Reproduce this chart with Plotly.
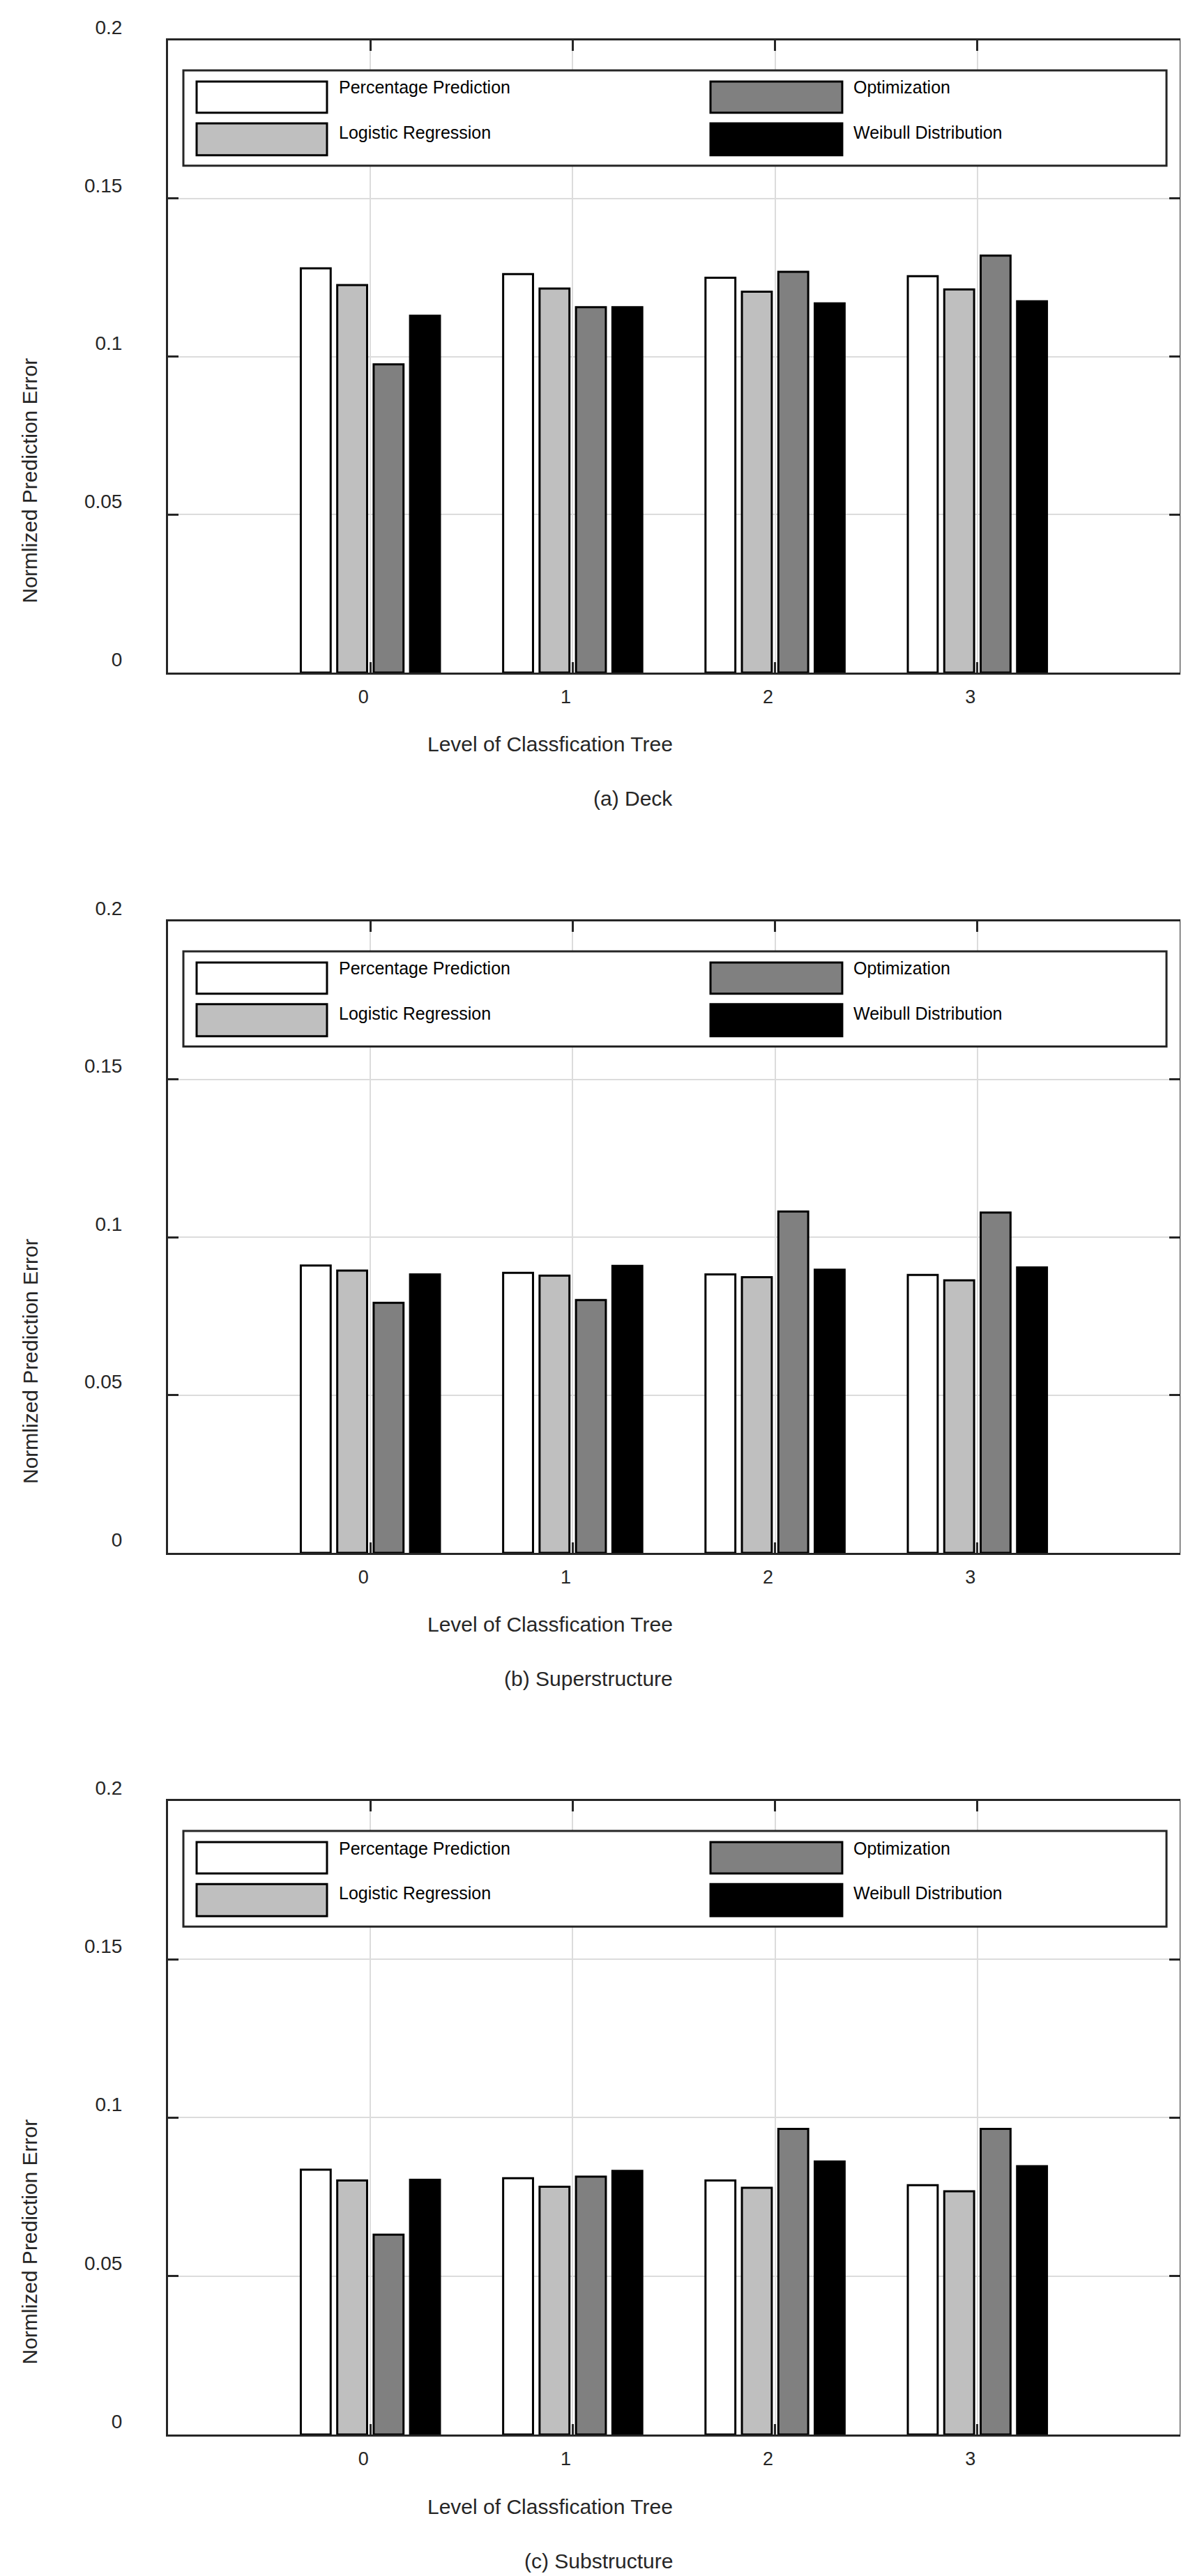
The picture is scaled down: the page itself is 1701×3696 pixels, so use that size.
import plotly.graph_objects as go

# ---------------- data ----------------
levels = [0, 1, 2, 3]
series_names = ["Percentage Prediction", "Logistic Regression", "Optimization", "Weibull Distribution"]
series_colors = ["#ffffff", "#bfbfbf", "#808080", "#000000"]

deck_pp = [0.1279, 0.1261, 0.1249, 0.1254]
deck_lr = [0.1226, 0.1215, 0.1205, 0.1212]
deck_opt = [0.0975, 0.1156, 0.1268, 0.1319]
deck_wb = [0.1129, 0.1156, 0.1168, 0.1175]

sup_pp = [0.0910, 0.0887, 0.0882, 0.0880]
sup_lr = [0.0894, 0.0878, 0.0873, 0.0863]
sup_opt = [0.0792, 0.0801, 0.1081, 0.1078]
sup_wb = [0.0882, 0.0909, 0.0897, 0.0904]

sub_pp = [0.0836, 0.0809, 0.0802, 0.0787]
sub_lr = [0.0802, 0.0782, 0.0779, 0.0768]
sub_opt = [0.0631, 0.0814, 0.0965, 0.0965]
sub_wb = [0.0804, 0.0832, 0.0862, 0.0847]

y_ticks = [0, 0.05, 0.1, 0.15, 0.2]
y_tick_labels = ["0", "0.05", "0.1", "0.15", "0.2"]
x_tick_labels = ["0", "1", "2", "3"]
x_title = "Level of Classfication Tree"
y_title = "Normlized Prediction Error"
captions = ["(a) Deck", "(b) Superstructure", "(c) Substructure"]

panels = [
    [deck_pp, deck_lr, deck_opt, deck_wb],
    [sup_pp, sup_lr, sup_opt, sup_wb],
    [sub_pp, sub_lr, sub_opt, sub_wb],
]

# ---------------- layout constants ----------------
W, H = 1701, 3696
ML, MR, MT, MB = 233, 17, 50, 211
domains = [[0.73595, 1.0], [0.36827, 0.63202], [0.0, 0.26463]]
FONT = "Liberation Sans, Arial, sans-serif"
TXT = "#262626"
AXC = "#262626"
GRID = "#dcdcdc"

fig = go.Figure()
layout = dict(
    width=W, height=H,
    margin=dict(l=ML, r=MR, t=MT, b=MB),
    paper_bgcolor="white", plot_bgcolor="white",
    barmode="group", bargap=0.28, bargroupgap=0.18,
    showlegend=False,
    font=dict(family=FONT, color=TXT),
)
shapes = []
annotations = []

for i, series in enumerate(panels):
    n = "" if i == 0 else str(i + 1)
    xa, ya = "x" + n, "y" + n
    for name, color, vals in zip(series_names, series_colors, series):
        fig.add_trace(go.Bar(
            x=levels, y=vals, name=name, xaxis=xa, yaxis=ya,
            marker=dict(color=color, line=dict(color="#000000", width=3)),
            showlegend=False,
        ))
    layout["xaxis" + n] = dict(
        domain=[0, 1], anchor=ya, range=[-1, 4],
        tickmode="array", tickvals=levels, ticktext=x_tick_labels,
        showgrid=True, gridcolor=GRID, gridwidth=2,
        showline=True, linecolor=AXC, linewidth=3, mirror="ticks",
        ticks="inside", ticklen=15, tickwidth=2.5, tickcolor=AXC,
        tickfont=dict(size=27, color=TXT, family=FONT),
        ticklabelshift=-10, ticklabelstandoff=9,
        zeroline=False, fixedrange=True,
    )
    layout["yaxis" + n] = dict(
        domain=domains[i], anchor=xa, range=[0, 0.2],
        tickmode="array", tickvals=y_ticks, ticktext=y_tick_labels,
        showgrid=True, gridcolor=GRID, gridwidth=2,
        showline=True, linecolor=AXC, linewidth=3, mirror="ticks",
        ticks="inside", ticklen=15, tickwidth=2.5, tickcolor=AXC,
        tickfont=dict(size=28, color=TXT, family=FONT),
        ticklabelshift=-19, ticklabelstandoff=57,
        zeroline=False, fixedrange=True,
    )
    xd, yd = xa + " domain", ya + " domain"
    # legend frame
    shapes.append(dict(type="rect", xref=xd, yref=yd, x0=0.01516, x1=0.98691,
                       y0=0.80176, y1=0.95264, line=dict(color=AXC, width=3),
                       fillcolor="white", layer="above"))
    sw_x = [(0.02826, 0.15713), (0.02826, 0.15713), (0.5362, 0.6664), (0.5362, 0.6664)]
    sw_y = [(0.8855, 0.9350), (0.8183, 0.8689), (0.8855, 0.9350), (0.8183, 0.8689)]
    tx_x = [0.1675, 0.1675, 0.6761, 0.6761]
    tx_y = [0.9257, 0.8546, 0.9257, 0.8546]
    for k in range(4):
        shapes.append(dict(type="rect", xref=xd, yref=yd,
                           x0=sw_x[k][0], x1=sw_x[k][1], y0=sw_y[k][0], y1=sw_y[k][1],
                           line=dict(color="#000000", width=3),
                           fillcolor=series_colors[k], layer="above"))
        annotations.append(dict(xref=xd, yref=yd, x=tx_x[k], y=tx_y[k],
                                text=series_names[k], showarrow=False,
                                xanchor="left", yanchor="middle",
                                font=dict(size=25, color="#000000", family=FONT)))
    # axis titles and caption
    annotations.append(dict(xref=xd, yref=yd, x=0.5, y=-0.1134, text=x_title,
                            showarrow=False, xanchor="right", yanchor="middle",
                            font=dict(size=30, color=TXT, family=FONT)))
    annotations.append(dict(xref=xd, yref=yd, x=0.5, y=-0.1993, text=captions[i],
                            showarrow=False, xanchor="right", yanchor="middle",
                            font=dict(size=30, color=TXT, family=FONT)))
    annotations.append(dict(xref=xd, yref=yd, x=-0.13646, y=0.5, text=y_title,
                            showarrow=False, xanchor="center", yanchor="top",
                            textangle=-90,
                            font=dict(size=30, color=TXT, family=FONT)))

layout["shapes"] = shapes
layout["annotations"] = annotations
fig.update_layout(**layout)
fig.write_html("out.html")
